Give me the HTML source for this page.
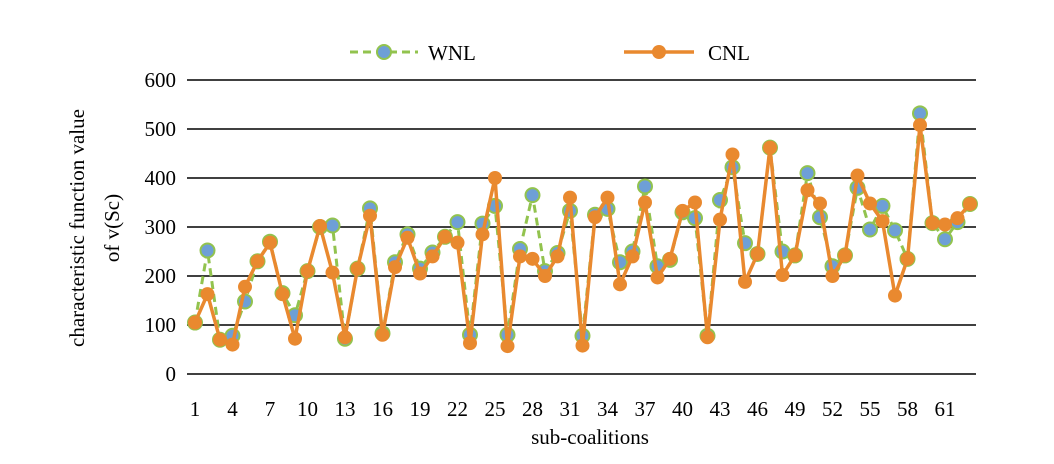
<!DOCTYPE html>
<html><head><meta charset="utf-8"><style>
body{margin:0;background:#fff}
svg text{font-family:"Liberation Serif",serif;fill:#000}
</style></head><body>
<svg id="chart" width="1054" height="459" xmlns="http://www.w3.org/2000/svg">
<g id="grid"></g>
<g id="yt"></g>
<g id="xt"></g>
<g id="series"></g>
<text x="590" y="444" font-size="21" text-anchor="middle">sub-coalitions</text>
<g font-size="21" text-anchor="middle">
<text transform="translate(84,228) rotate(-90)">characteristic function value</text>
<text transform="translate(119,228) rotate(-90)">of v(Sc)</text>
</g>
<g>
<g>
<line x1="350" y1="52" x2="418" y2="52" stroke="#92c34e" stroke-width="3" stroke-dasharray="8,5"/>
<circle cx="384" cy="52" r="7" fill="#6e9fd6" stroke="#92c34e" stroke-width="2"/>
<text x="428" y="60" font-size="21">WNL</text></g>
<g>
<line x1="624" y1="52" x2="694" y2="52" stroke="#e9892f" stroke-width="3.5"/>
<circle cx="659" cy="52" r="7" fill="#e9892f"/>
<text x="708" y="60" font-size="21">CNL</text></g>
</g>
</svg>
<script>
const yTicks=[0,100,200,300,400,500,600];
const xLabels=[1,4,7,10,13,16,19,22,25,28,31,34,37,40,43,46,49,52,55,58,61];
const wnl=[105,252,70,78,148,230,270,165,120,210,300,303,72,215,338,83,228,285,215,248,280,310,80,307,343,80,255,365,210,247,333,78,325,337,228,250,383,220,233,330,318,78,355,422,267,245,462,250,242,410,320,220,242,380,295,343,293,235,532,308,275,310,347];
const cnl=[105,163,70,60,178,230,268,163,72,210,302,207,75,215,323,80,218,278,205,240,280,268,63,285,400,57,240,235,200,240,360,58,320,360,183,240,350,197,235,333,350,75,315,448,188,245,462,202,242,375,348,200,242,405,348,312,160,235,508,308,305,318,347];
const NS="http://www.w3.org/2000/svg";
const xs=i=>195+(i-1)*12.5;
const ys=v=>374-v*0.49;
function mk(t,a,p){const e=document.createElementNS(NS,t);for(const k in a)e.setAttribute(k,a[k]);p.appendChild(e);return e;}
const grid=document.getElementById('grid'),yt=document.getElementById('yt'),xt=document.getElementById('xt'),ser=document.getElementById('series');
yTicks.forEach(v=>{
 const l=mk('line',{x1:187,x2:976,y1:ys(v),y2:ys(v),stroke:'#000','stroke-width':1.6},grid);
 
 
 const t=mk('text',{x:176,y:ys(v)+7,'font-size':21,'text-anchor':'end'},yt);t.textContent=v;
 
 
});
xLabels.forEach(v=>{
 const t=mk('text',{x:xs(v),y:416,'font-size':21,'text-anchor':'middle'},xt);t.textContent=v;
 
 
});
function draw(data,name,stroke,dash,fill,mstroke,w){
 const g=mk('g',{},ser);
 
 
 const p=mk('polyline',{points:data.map((v,i)=>xs(i+1)+','+ys(v)).join(' '),fill:'none',stroke:stroke,'stroke-width':w,'stroke-dasharray':dash,'stroke-linejoin':'round'},g);
 
 
 data.forEach((v,i)=>{
  const c=mk('circle',{cx:xs(i+1),cy:ys(v),r:7,fill:fill,stroke:mstroke,'stroke-width':mstroke=='none'?0:2},g);
  
  
 });
}
draw(wnl,'wnl','#92c34e','8,5','#6e9fd6','#92c34e',3);
draw(cnl,'cnl','#e9892f','none','#e9892f','none',3.5);
</script>
</body></html>
